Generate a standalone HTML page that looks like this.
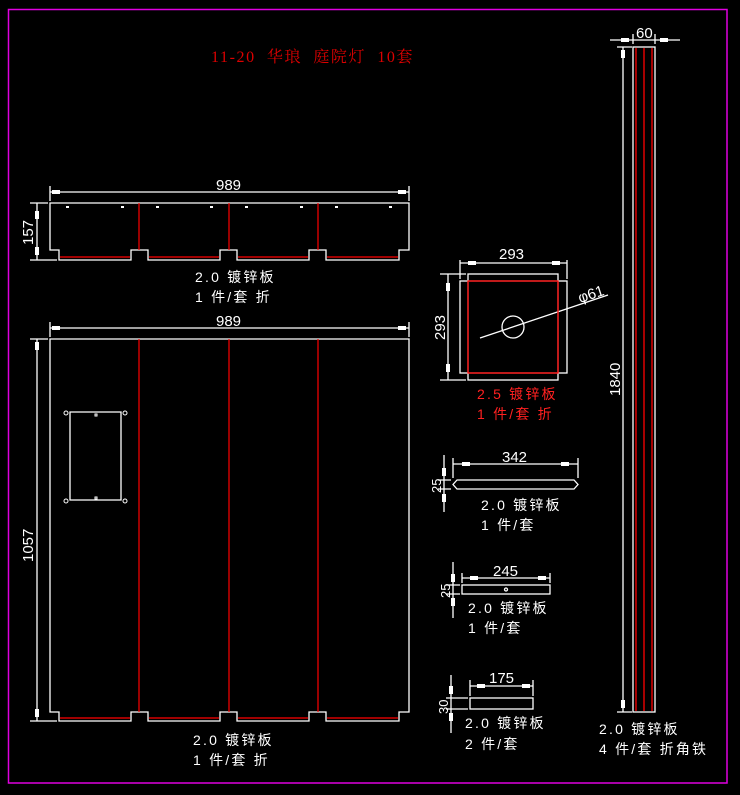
<!DOCTYPE html>
<html><head><meta charset="utf-8"><style>
html,body{margin:0;padding:0;background:#000;width:740px;height:795px;overflow:hidden}
svg{display:block}
text{font-family:"Liberation Sans","Noto Sans CJK SC",sans-serif;fill:#fff;font-size:14px}
.l{letter-spacing:2.2px;white-space:pre}
.d{font-size:15px}
</style></head><body>
<svg width="740" height="795" viewBox="0 0 740 795" xmlns="http://www.w3.org/2000/svg">
<rect x="8.5" y="9.5" width="718.5" height="773.5" fill="none" stroke="#e000e0" stroke-width="1.5"/>
<text x="211" y="62" style="fill:#dd0000;font-size:16px;font-family:'Liberation Serif','Noto Serif CJK SC',serif;white-space:pre;letter-spacing:1.6px">11-20  华琅  庭院灯  10套</text>

<!-- top panel -->
<g stroke="#fff" stroke-width="1.3" fill="none">
<path d="M50 203 H409 V250 H399 V260 H326 V250 H309 V260 H237 V250 H220 V260 H148 V250 H131 V260 H59 V250 H50 Z"/>
<path d="M50 186 V201 M409 186 V201 M50 192 H409 M30 203 H48 M30 260 H57 M37 203 V260"/>
</g>
<g stroke="#f00" stroke-width="1.2">
<path d="M139 203 V250 M229 203 V250 M318 203 V250 M60 257 H130 M149 257 H219 M238 257 H308 M327 257 H398"/>
</g>
<g fill="#fff">
<rect x="66" y="206" width="3" height="2"/><rect x="121" y="206" width="3" height="2"/><rect x="156" y="206" width="3" height="2"/><rect x="210" y="206" width="3" height="2"/><rect x="245" y="206" width="3" height="2"/><rect x="300" y="206" width="3" height="2"/><rect x="335" y="206" width="3" height="2"/><rect x="389" y="206" width="3" height="2"/>
<rect x="52" y="190" width="8" height="4"/><rect x="398" y="190" width="8" height="4"/>
<rect x="35" y="211" width="4" height="8"/><rect x="35" y="247" width="4" height="8"/>
</g>
<text class="d" x="216" y="190">989</text>
<text class="d" x="0" y="0" transform="translate(33,245) rotate(-90)">157</text>
<text class="l" x="195" y="282">2.0 镀锌板</text>
<text class="l" x="195" y="302">1 件/套 折</text>

<!-- big panel -->
<g stroke="#fff" stroke-width="1.3" fill="none">
<path d="M50 339 H409 V712 H399 V721 H326 V712 H309 V721 H237 V712 H220 V721 H148 V712 H131 V721 H59 V712 H50 Z"/>
<path d="M50 322 V337 M409 322 V337 M50 328 H409 M30 339 H48 M30 721 H57 M37 339 V721"/>
<path d="M70 412 H121 V500 H70 Z"/>
</g>
<g stroke="#f00" stroke-width="1.2">
<path d="M139 339 V712 M229 339 V712 M318 339 V712 M60 718 H130 M149 718 H219 M238 718 H308 M327 718 H398"/>
</g>
<g fill="#fff"><rect x="52" y="326" width="8" height="4"/><rect x="398" y="326" width="8" height="4"/><rect x="35" y="342" width="4" height="8"/><rect x="35" y="709" width="4" height="8"/></g>
<g stroke="#fff" fill="none"><rect x="95" y="414" width="2" height="2"/><rect x="95" y="497" width="2" height="2"/><circle cx="66" cy="413" r="2"/><circle cx="125" cy="413" r="2"/><circle cx="66" cy="501" r="2"/><circle cx="125" cy="501" r="2"/></g>
<text class="d" x="216" y="326">989</text>
<text class="d" x="0" y="0" transform="translate(33,562) rotate(-90)">1057</text>
<text class="l" x="193" y="745">2.0 镀锌板</text>
<text class="l" x="193" y="765">1 件/套 折</text>

<!-- square plate -->
<g stroke="#fff" stroke-width="1.3" fill="none">
<rect x="468" y="274" width="90" height="106"/>
<rect x="460" y="281" width="107" height="92"/>
<path d="M460 260 V279 M567 260 V279 M460 263 H567 M440 274 H466 M440 380 H466 M448 274 V380"/>
<circle cx="513" cy="327" r="11"/>
<path d="M480 338 L608 295"/>
</g>
<rect x="468" y="281" width="90" height="92" stroke="#f00" stroke-width="1.3" fill="none"/>
<g fill="#fff"><rect x="468" y="261" width="8" height="4"/><rect x="552" y="261" width="8" height="4"/><rect x="446" y="283" width="4" height="8"/><rect x="446" y="364" width="4" height="8"/></g>
<text class="d" x="499" y="259">293</text>
<text class="d" x="0" y="0" transform="translate(445,340) rotate(-90)">293</text>
<text class="d" x="0" y="0" transform="translate(580,303) rotate(-18)">φ61</text>
<text class="l" x="477" y="399" style="fill:#ff2020">2.5 镀锌板</text>
<text class="l" x="477" y="419" style="fill:#ff2020">1 件/套 折</text>

<!-- bar 342 -->
<g stroke="#fff" stroke-width="1.3" fill="none">
<path d="M457 480 H574 L578 484.5 L574 489 H457 L453 484.5 Z"/>
<path d="M453 458 V478 M578 458 V478 M453 464 H578 M444 455 V512 M438 480 H451 M438 489 H451"/>
</g>
<g fill="#fff"><rect x="462" y="462" width="8" height="4"/><rect x="561" y="462" width="8" height="4"/><rect x="442" y="468" width="4" height="8"/><rect x="442" y="494" width="4" height="8"/></g>
<text class="d" x="502" y="462">342</text>
<text x="0" y="0" transform="translate(441,493) rotate(-90)" style="font-size:13px">25</text>
<text class="l" x="481" y="510">2.0 镀锌板</text>
<text class="l" x="481" y="530">1 件/套</text>

<!-- bar 245 -->
<g stroke="#fff" stroke-width="1.3" fill="none">
<rect x="462" y="585" width="88" height="9"/>
<path d="M462 573 V583 M550 573 V583 M462 578 H550 M453 562 V618 M446 585 H460 M446 594 H460"/>
<circle cx="506" cy="589.5" r="1.5"/>
</g>
<g fill="#fff"><rect x="470" y="576" width="8" height="4"/><rect x="538" y="576" width="8" height="4"/><rect x="451" y="574" width="4" height="8"/><rect x="451" y="598" width="4" height="8"/></g>
<text class="d" x="493" y="576">245</text>
<text x="0" y="0" transform="translate(450,598) rotate(-90)" style="font-size:13px">25</text>
<text class="l" x="468" y="613">2.0 镀锌板</text>
<text class="l" x="468" y="633">1 件/套</text>

<!-- bar 175 -->
<g stroke="#fff" stroke-width="1.3" fill="none">
<rect x="470" y="698" width="63" height="11"/>
<path d="M470 680 V696 M533 680 V696 M470 686 H533 M451 675 V733 M446 698 H468 M446 709 H468"/>
</g>
<g fill="#fff"><rect x="477" y="684" width="8" height="4"/><rect x="522" y="684" width="8" height="4"/><rect x="449" y="686" width="4" height="8"/><rect x="449" y="713" width="4" height="8"/></g>
<text class="d" x="489" y="683">175</text>
<text x="0" y="0" transform="translate(448,714) rotate(-90)" style="font-size:13px">30</text>
<text class="l" x="465" y="728">2.0 镀锌板</text>
<text class="l" x="465" y="749">2 件/套</text>

<!-- column -->
<g stroke="#fff" stroke-width="1.3" fill="none">
<rect x="633" y="47" width="22" height="665"/>
<path d="M633 34 V44 M655 34 V44 M610 40 H680 M617 47 H632 M623 47 V712 M617 712 H632"/>
</g>
<g stroke="#f00" stroke-width="1.3"><path d="M636 48 V711 M644 48 V711 M652 48 V711"/></g>
<g fill="#fff"><rect x="621" y="38" width="8" height="4"/><rect x="660" y="38" width="8" height="4"/><rect x="621" y="50" width="4" height="8"/><rect x="621" y="700" width="4" height="8"/></g>
<text class="d" x="636" y="38">60</text>
<text class="d" x="0" y="0" transform="translate(620,396) rotate(-90)">1840</text>
<text class="l" x="599" y="734">2.0 镀锌板</text>
<text class="l" x="599" y="754">4 件/套 折角铁</text>
</svg>
</body></html>
